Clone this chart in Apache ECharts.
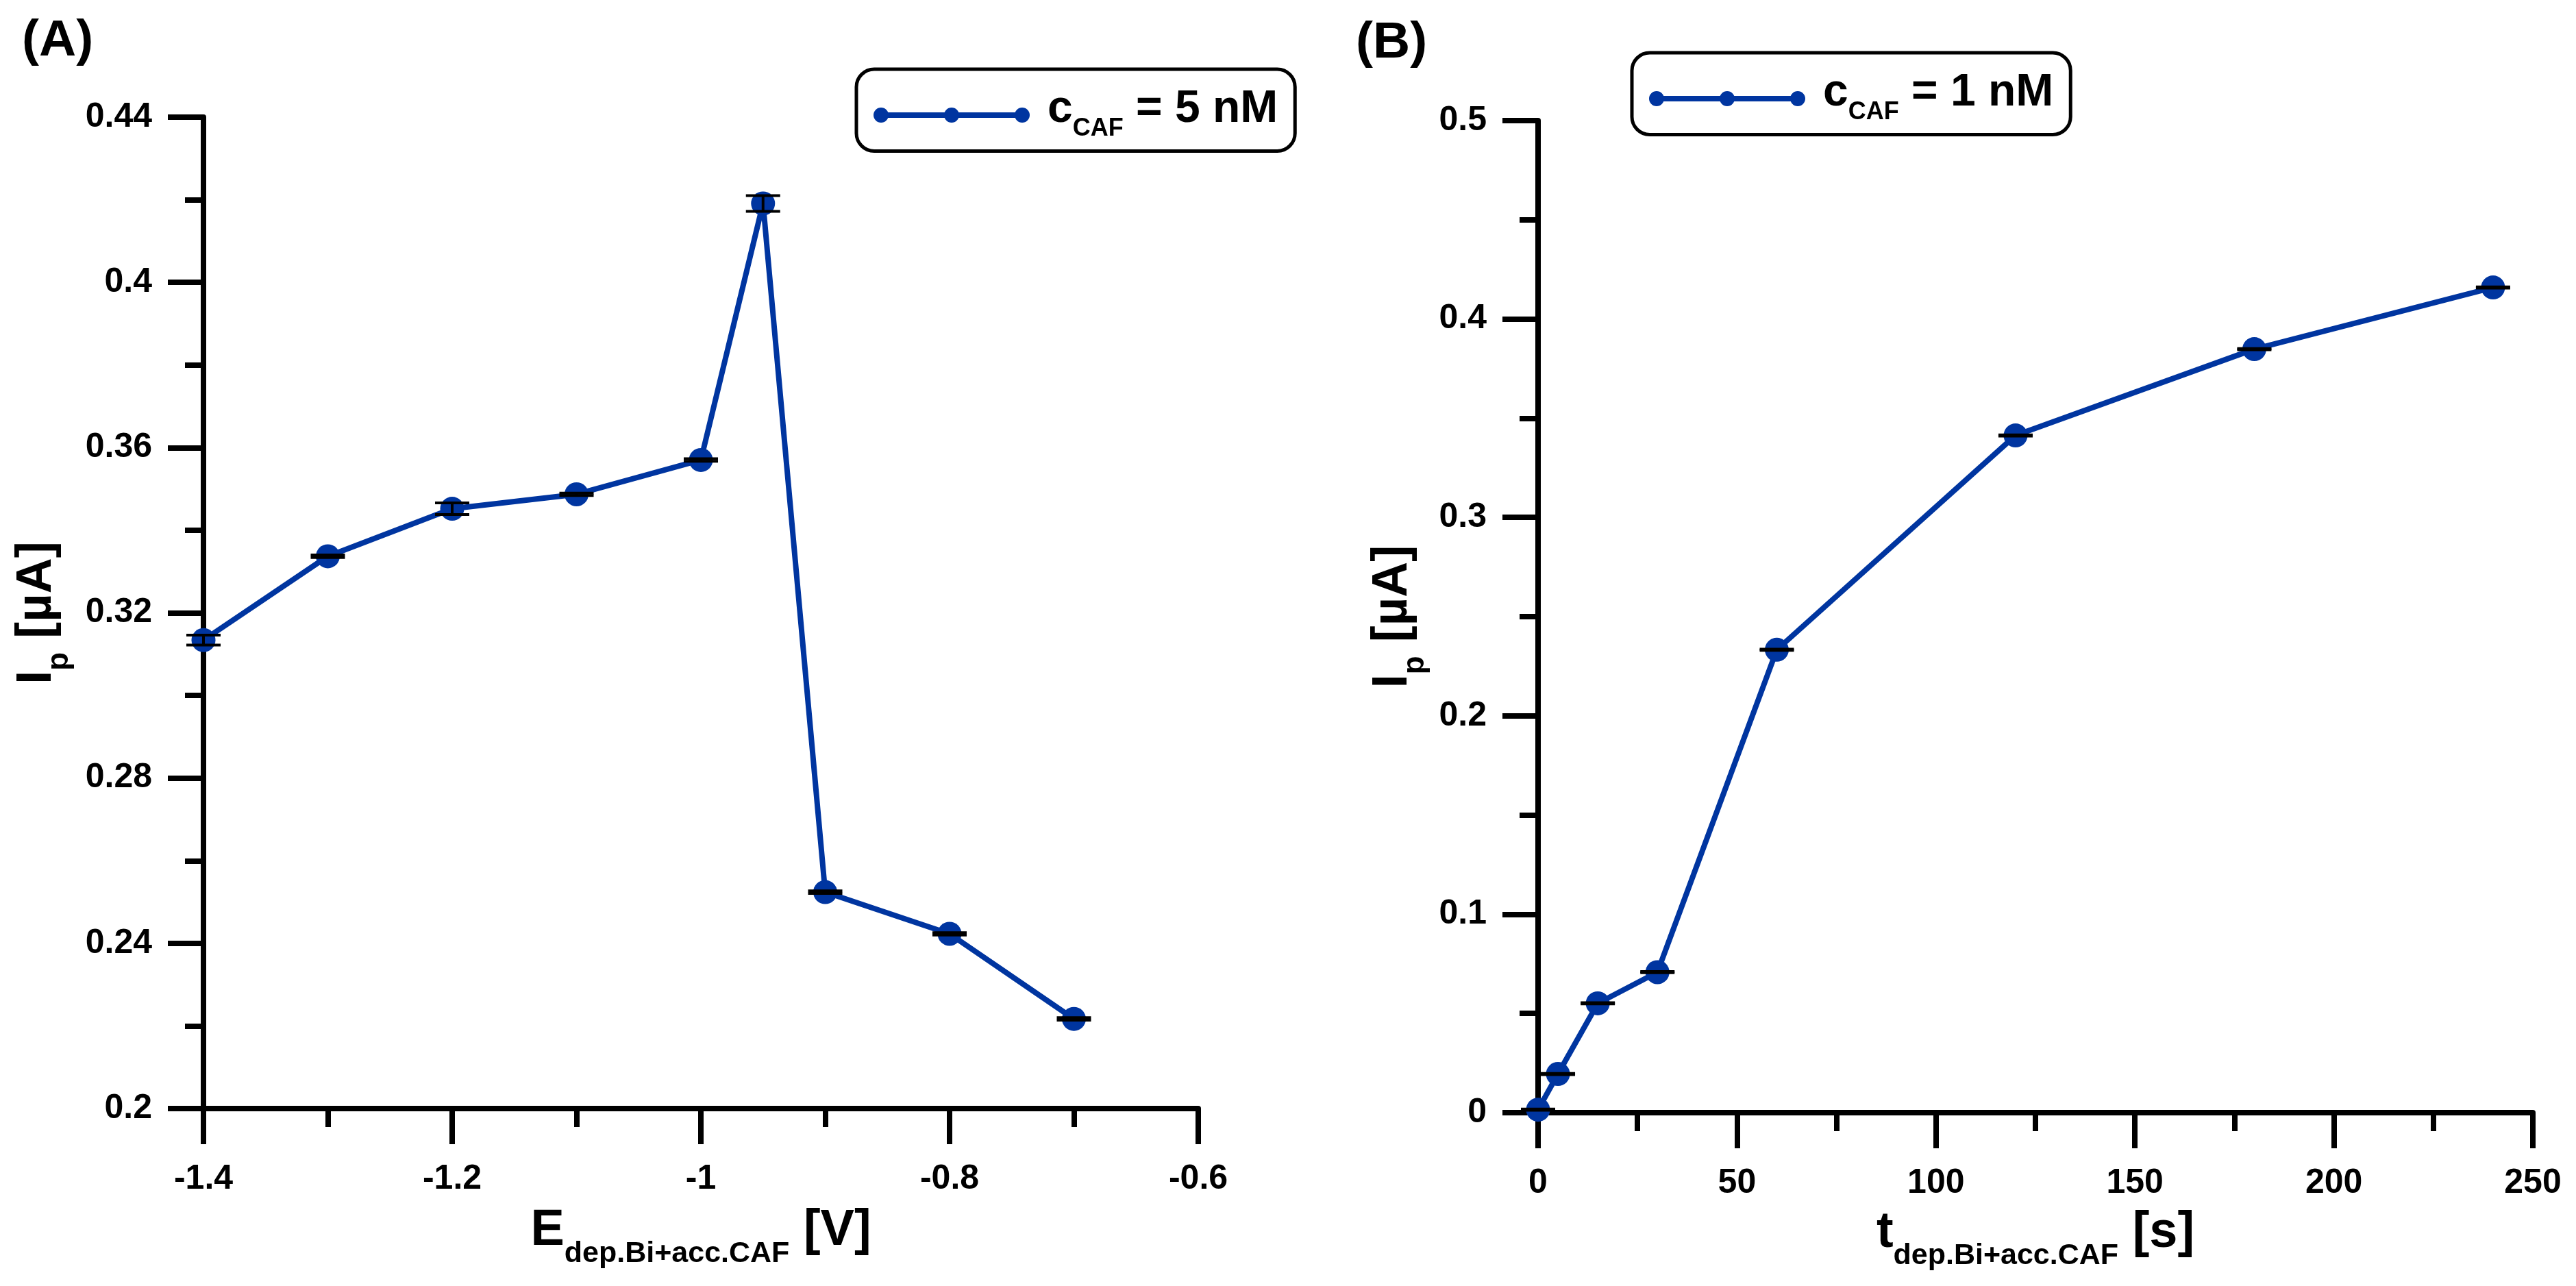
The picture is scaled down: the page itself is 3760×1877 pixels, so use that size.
<!DOCTYPE html>
<html>
<head>
<meta charset="utf-8">
<title>Ip vs deposition potential / time</title>
<script src="https://cdn.jsdelivr.net/npm/echarts@6.0.0/dist/echarts.min.js"></script>
<style>
html, body { margin: 0; padding: 0; background: #fff; }
#main { width: 3760px; height: 1877px; }
</style>
</head>
<body>
<div id="main"></div>
<script>
// (A) peak current vs deposition/accumulation potential, cCAF = 5 nM
var potA = [-1.4, -1.3, -1.2, -1.1, -1.0, -0.95, -0.9, -0.8, -0.7];
var ipA  = [0.3134, 0.3337, 0.3452, 0.3487, 0.3570, 0.4191, 0.2524, 0.2423, 0.2217];
var errA = [0.0012, 0.0003, 0.0014, 0.0003, 0.0003, 0.0019, 0.0003, 0.0003, 0.0003];

// (B) peak current vs deposition/accumulation time, cCAF = 1 nM
var timeB = [0, 5, 15, 30, 60, 120, 180, 240];
var ipB   = [0.0015, 0.0195, 0.0551, 0.0708, 0.2333, 0.3413, 0.3848, 0.4159];
var errB  = [0.0003, 0.0003, 0.0003, 0.0003, 0.0003, 0.0003, 0.0003, 0.0003];

var panelLabels = ['(A)', '(B)'];
var legendNames = ['cCAF = 5 nM', 'cCAF = 1 nM'];
var legendRich  = ['{m|c}{s|CAF}{m| = 5 nM}', '{m|c}{s|CAF}{m| = 1 nM}'];
var xNames = ['{m|E}{s|dep.Bi+acc.CAF}{m| [V]}', '{m|t}{s|dep.Bi+acc.CAF}{m| [s]}'];
var yName  = '{m|I}{s|p}{m| [\u00b5A]}';

var blue = '#0035a0';
var font = 'Liberation Sans, Arial, Helvetica, sans-serif';

function pairs(xs, ys) {
	var out = [];
	for (var i = 0; i < xs.length; i++) out.push([xs[i], ys[i]]);
	return out;
}
function bars(xs, ys, es) {
	var out = [];
	for (var i = 0; i < xs.length; i++) out.push([xs[i], ys[i] - es[i], ys[i] + es[i]]);
	return out;
}

// error bar: stem + two caps, in black, over the markers
function renderErr(params, api) {
	var lo = api.coord([api.value(0), api.value(1)]);
	var hi = api.coord([api.value(0), api.value(2)]);
	var w = 25;
	var st = { stroke: '#000', lineWidth: 4 };
	return {
		type: 'group',
		children: [
			{ type: 'line', shape: { x1: lo[0], y1: lo[1], x2: hi[0], y2: hi[1] }, style: st },
			{ type: 'line', shape: { x1: hi[0] - w, y1: hi[1], x2: hi[0] + w, y2: hi[1] }, style: st },
			{ type: 'line', shape: { x1: lo[0] - w, y1: lo[1], x2: lo[0] + w, y2: lo[1] }, style: st }
		]
	};
}

var richMain = {
	m: { fontSize: 74, fontWeight: 'bold', fontFamily: font, color: '#000', lineHeight: 110 },
	s: { fontSize: 43, fontWeight: 'bold', fontFamily: font, color: '#000', lineHeight: 54, verticalAlign: 'bottom' }
};
var richY = {
	m: { fontSize: 72, fontWeight: 'bold', fontFamily: font, color: '#000', lineHeight: 110 },
	s: { fontSize: 44, fontWeight: 'bold', fontFamily: font, color: '#000', lineHeight: 48, verticalAlign: 'bottom' }
};
var richLegend = {
	m: { fontSize: 66, fontWeight: 'bold', fontFamily: font, color: '#000', lineHeight: 93 },
	s: { fontSize: 36, fontWeight: 'bold', fontFamily: font, color: '#000', lineHeight: 40, verticalAlign: 'bottom' }
};

function axisCommon(extra) {
	var base = {
		type: 'value',
		splitLine: { show: false },
		axisLine: { show: true, onZero: false, lineStyle: { color: '#000', width: 8 } },
		axisTick: { show: true, inside: false, length: 52, lineStyle: { color: '#000', width: 8 } },
		minorTick: { show: true, splitNumber: 2, length: 27, lineStyle: { color: '#000', width: 8 } },
		axisLabel: { color: '#000', fontSize: 50, fontWeight: 'bold', fontFamily: font, showMinLabel: true, showMaxLabel: true, hideOverlap: false },
		nameLocation: 'middle'
	};
	for (var k in extra) base[k] = extra[k];
	return base;
}

// legend icon: line with three dots
var legendIcon = 'path://M11,7H217V15H11Z' +
	'M0,11a11,11 0 1,1 22,0a11,11 0 1,1 -22,0Z' +
	'M103,11a11,11 0 1,1 22,0a11,11 0 1,1 -22,0Z' +
	'M206,11a11,11 0 1,1 22,0a11,11 0 1,1 -22,0Z';

function legendBox(idx, left, top) {
	return {
		data: [legendNames[idx]],
		left: left,
		top: top,
		orient: 'horizontal',
		selectedMode: false,
		icon: legendIcon,
		itemWidth: 228,
		itemHeight: 22,
		padding: [26, 25, 14, 25],
		borderColor: '#000',
		borderWidth: 5,
		borderRadius: 26,
		backgroundColor: '#fff',
		formatter: function (name) { return legendRich[legendNames.indexOf(name)]; },
		textStyle: { padding: [0, 0, 16, 21], rich: richLegend }
	};
}

var chart = echarts.init(document.getElementById('main'), null, { renderer: 'canvas' });

chart.setOption({
	animation: false,
	backgroundColor: '#fff',
	textStyle: { fontFamily: font },
	title: [
		{ text: panelLabels[0], left: 27, top: 18, padding: 5, textStyle: { fontSize: 75, fontWeight: 'bold', fontFamily: font, color: '#000' } },
		{ text: panelLabels[1], left: 1974, top: 21, padding: 5, textStyle: { fontSize: 75, fontWeight: 'bold', fontFamily: font, color: '#000' } }
	],
	legend: [legendBox(0, 1250, 101), legendBox(1, 2382, 77)],
	grid: [
		{ left: 297, top: 171, width: 1452, height: 1447 },
		{ left: 2245, top: 176, width: 1452, height: 1448 }
	],
	xAxis: [
		axisCommon({ gridIndex: 0, min: -1.4, max: -0.6, interval: 0.2, name: xNames[0], nameGap: 124,
			nameTextStyle: { rich: richMain }, axisLabel: { color: '#000', fontSize: 50, fontWeight: 'bold', fontFamily: font, margin: 78, showMinLabel: true, showMaxLabel: true } }),
		axisCommon({ gridIndex: 1, min: 0, max: 250, interval: 50, name: xNames[1], nameGap: 121,
			nameTextStyle: { rich: richMain }, axisLabel: { color: '#000', fontSize: 50, fontWeight: 'bold', fontFamily: font, margin: 78, showMinLabel: true, showMaxLabel: true } })
	],
	yAxis: [
		axisCommon({ gridIndex: 0, min: 0.2, max: 0.44, interval: 0.04, name: yName, nameGap: 188,
			nameTextStyle: { rich: richY }, axisLabel: { color: '#000', fontSize: 50, fontWeight: 'bold', fontFamily: font, margin: 75, showMinLabel: true, showMaxLabel: true } }),
		axisCommon({ gridIndex: 1, min: 0, max: 0.5, interval: 0.1, name: yName, nameGap: 157,
			nameTextStyle: { rich: richY }, axisLabel: { color: '#000', fontSize: 50, fontWeight: 'bold', fontFamily: font, margin: 75, showMinLabel: true, showMaxLabel: true } })
	],
	series: [
		{
			name: legendNames[0], type: 'line', xAxisIndex: 0, yAxisIndex: 0,
			data: pairs(potA, ipA), symbol: 'circle', symbolSize: 35, clip: false,
			lineStyle: { color: blue, width: 8 }, itemStyle: { color: blue },
			emphasis: { disabled: true }, z: 2
		},
		{
			type: 'custom', xAxisIndex: 0, yAxisIndex: 0, data: bars(potA, ipA, errA),
			renderItem: renderErr, encode: { x: 0, y: [1, 2] }, clip: false, z: 5, silent: true
		},
		{
			name: legendNames[1], type: 'line', xAxisIndex: 1, yAxisIndex: 1,
			data: pairs(timeB, ipB), symbol: 'circle', symbolSize: 35, clip: false,
			lineStyle: { color: blue, width: 8 }, itemStyle: { color: blue },
			emphasis: { disabled: true }, z: 2
		},
		{
			type: 'custom', xAxisIndex: 1, yAxisIndex: 1, data: bars(timeB, ipB, errB),
			renderItem: renderErr, encode: { x: 0, y: [1, 2] }, clip: false, z: 5, silent: true
		}
	]
});
</script>
</body>
</html>
